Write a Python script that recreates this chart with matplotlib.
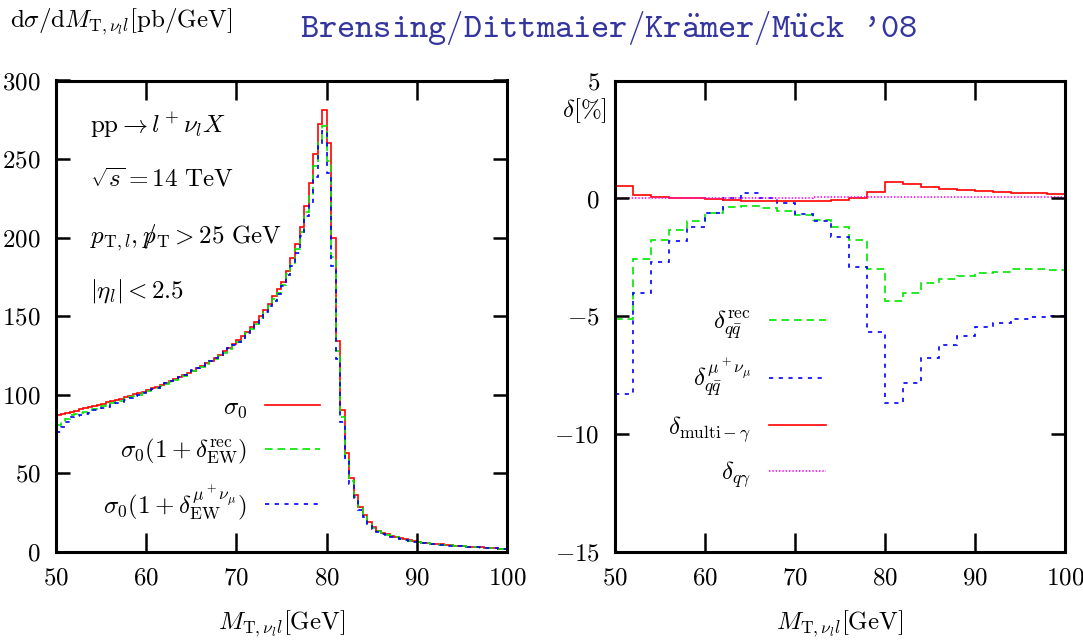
import numpy as np
import matplotlib
matplotlib.use("Agg")
import matplotlib.pyplot as plt
from matplotlib.ticker import FixedLocator, FixedFormatter

plt.rcParams["mathtext.fontset"] = "cm"
plt.rcParams["font.family"] = "serif"
plt.rcParams["font.serif"] = ["cmr10"]
plt.rcParams["lines.scale_dashes"] = False
plt.rcParams["axes.unicode_minus"] = False

# ---- binning of the transverse-mass distribution ----
mt_min, mt_max = 50.0, 100.0
fine_bin = 0.5     # GeV, cross-section histogram
coarse_bin = 2.0   # GeV, relative corrections

# dsigma/dM_T [pb/GeV], 0.5 GeV bins from 50 to 100 GeV
sigma_0 = [
    87.3, 87.9, 88.6, 89.2, 89.9, 90.6, 91.3, 92.0, 92.7, 93.4,
    94.2, 95.0, 95.8, 96.6, 97.4, 98.3, 99.2, 100.1, 101.0, 102.0,
    103.0, 104.0, 105.1, 106.2, 107.3, 108.5, 109.7, 111.0, 112.4, 113.7,
    115.2, 116.7, 118.3, 119.9, 121.7, 123.5, 125.4, 127.5, 129.7, 132.0,
    134.5, 137.1, 140.0, 143.0, 146.4, 150.0, 154.0, 158.0, 162.5, 167.0,
    172.0, 179.0, 187.0, 196.0, 207.0, 220.0, 235.0, 253.0, 272.0, 281.0,
    260.0, 199.5, 134.0, 90.0, 63.0, 47.0, 36.0, 28.7, 23.4, 19.0,
    15.5, 13.4, 12.1, 11.1, 10.2, 9.4, 8.5, 7.9, 7.3, 6.6,
    6.1, 5.8, 5.5, 5.2, 4.9, 4.6, 4.4, 4.1, 3.9, 3.7,
    3.5, 3.3, 3.1, 2.9, 2.7, 2.5, 2.3, 2.2, 2.0, 1.8,
]
sigma_rec = [
    80.8, 82.6, 84.6, 87.0, 87.6, 88.2, 88.9, 89.6, 91.1, 91.8,
    92.5, 93.3, 94.5, 95.3, 96.1, 97.0, 98.3, 99.1, 100.0, 101.0,
    102.4, 103.4, 104.4, 105.5, 106.9, 108.1, 109.3, 110.6, 112.1, 113.4,
    114.8, 116.3, 117.8, 119.4, 121.2, 123.0, 124.7, 126.8, 129.0, 131.3,
    133.6, 136.2, 139.0, 142.0, 145.1, 148.6, 152.6, 156.5, 160.6, 165.0,
    170.0, 176.9, 183.7, 192.5, 203.3, 216.1, 228.0, 245.4, 262.0, 271.0,
    249.0, 187.5, 128.0, 86.0, 60.5, 45.1, 34.6, 27.6, 22.6, 18.3,
    14.9, 12.9, 11.7, 10.7, 9.9, 9.1, 8.2, 7.6, 7.1, 6.4,
    5.9, 5.6, 5.3, 5.0, 4.7, 4.5, 4.3, 4.0, 3.8, 3.6,
    3.4, 3.2, 3.0, 2.8, 2.6, 2.4, 2.2, 2.1, 1.9, 1.7,
]
sigma_mu = [
    76.4, 79.1, 82.4, 85.6, 86.3, 87.0, 87.6, 88.3, 90.2, 90.9,
    91.7, 92.4, 94.1, 94.9, 95.6, 96.5, 98.0, 98.9, 99.8, 100.8,
    102.4, 103.4, 104.4, 105.5, 107.3, 108.5, 109.7, 111.0, 112.7, 114.0,
    115.5, 117.0, 118.3, 120.0, 121.7, 123.5, 125.2, 127.3, 129.5, 131.8,
    133.6, 136.2, 139.1, 142.1, 145.0, 148.5, 152.5, 156.5, 159.8, 164.2,
    169.2, 176.0, 181.6, 190.3, 201.0, 213.6, 221.7, 238.7, 258.0, 268.0,
    241.0, 182.0, 123.0, 82.4, 58.1, 43.3, 33.2, 26.4, 21.8, 17.7,
    14.4, 12.5, 11.4, 10.4, 9.6, 8.8, 8.0, 7.4, 6.9, 6.2,
    5.8, 5.5, 5.2, 4.9, 4.6, 4.4, 4.2, 3.9, 3.7, 3.5,
    3.3, 3.1, 2.9, 2.8, 2.6, 2.4, 2.2, 2.1, 1.9, 1.7,
]

# relative corrections delta [%], 2 GeV bins from 50 to 100 GeV
delta_qq_rec = [
    -5.10, -2.57, -1.75, -1.34, -0.95, -0.62, -0.34, -0.31, -0.42, -0.52,
    -0.69, -0.92, -1.19, -1.77, -3.01, -4.37, -4.02, -3.60, -3.41, -3.28,
    -3.18, -3.10, -3.01, -3.01, -3.04,
]
delta_qq_mu = [
    -8.28, -4.02, -2.70, -1.80, -1.19, -0.62, 0.04, 0.25, 0.04, -0.17,
    -0.66, -0.97, -1.65, -2.90, -5.66, -8.66, -7.85, -6.78, -6.21, -5.83,
    -5.47, -5.30, -5.13, -5.05, -5.00,
]
delta_multi_gamma = [
    0.54, 0.16, 0.07, 0.03, 0.00, -0.04, -0.08, -0.10, -0.10, -0.10,
    -0.10, -0.10, -0.05, 0.04, 0.28, 0.71, 0.61, 0.47, 0.40, 0.34,
    0.30, 0.27, 0.24, 0.22, 0.20,
]
delta_q_gamma = [
    0.02, 0.02, 0.02, 0.03, 0.03, 0.03, 0.04, 0.04, 0.04, 0.04,
    0.04, 0.05, 0.05, 0.05, 0.06, 0.07, 0.07, 0.07, 0.07, 0.07,
    0.07, 0.08, 0.08, 0.08, 0.08,
]

mt_ticks = [50, 60, 70, 80, 90, 100]
sigma_ticks = [0, 50, 100, 150, 200, 250, 300]
delta_ticks = [-15, -10, -5, 0, 5]

fine_edges = np.linspace(mt_min, mt_max, int(round((mt_max - mt_min) / fine_bin)) + 1)
coarse_edges = np.linspace(mt_min, mt_max, int(round((mt_max - mt_min) / coarse_bin)) + 1)

RED, GREEN, BLUE, MAGENTA = "#ff0000", "#00e600", "#0000ff", "#ff00ff"
FS = 18
LW = 1.2
DASHED = (0, (5.5, 3.5))
SHORTDASH = (0, (3.0, 4.0))
DOTTED = (0, (1.0, 1.4))

fig = plt.figure(figsize=(10.83, 6.44), dpi=100)
ax1 = fig.add_axes([0.0517, 0.1433, 0.4164, 0.7317])
ax2 = fig.add_axes([0.5679, 0.1430, 0.4155, 0.7317])


def style_axes(ax, yticks, ylim):
    ax.set_xlim(mt_min, mt_max)
    ax.set_ylim(*ylim)
    ax.xaxis.set_major_locator(FixedLocator(mt_ticks))
    ax.xaxis.set_major_formatter(FixedFormatter([f"${t}$" for t in mt_ticks]))
    ax.yaxis.set_major_locator(FixedLocator(yticks))
    ax.yaxis.set_major_formatter(FixedFormatter([f"${t}$" for t in yticks]))
    ax.tick_params(axis="x", direction="in", top=True, length=13.5, width=1.8,
                   pad=11, labelsize=FS)
    ax.tick_params(axis="y", direction="in", right=True, length=10, width=1.8,
                   pad=11, labelsize=FS)
    for sp in ax.spines.values():
        sp.set_linewidth(2.2)
    ax.set_xlabel(r"$M_{\mathrm{T},\nu_l l}[\mathrm{GeV}]$", fontsize=FS,
                  verticalalignment="baseline")
    ax.xaxis.set_label_coords(0.5, -0.165)


# ---- left: differential cross section ----
ax1.stairs(sigma_0, fine_edges, baseline=None, color=RED, lw=LW,
           label=r"$\sigma_0$")
ax1.stairs(sigma_rec, fine_edges, baseline=None, color=GREEN, lw=LW,
           linestyle=DASHED,
           label=r"$\sigma_0(1+\delta_{\mathrm{EW}}^{\mathrm{rec}})$")
ax1.stairs(sigma_mu, fine_edges, baseline=None, color=BLUE, lw=LW,
           linestyle=SHORTDASH,
           label=r"$\sigma_0(1+\delta_{\mathrm{EW}}^{\mu^+\nu_\mu})$")
style_axes(ax1, sigma_ticks, (0, 300))

ax1.legend(loc="center right", bbox_to_anchor=(0.585, 0.197), frameon=False,
           markerfirst=False, fontsize=FS, handlelength=2.2,
           handletextpad=0.7, labelspacing=0.68, borderpad=0,
           borderaxespad=0)

info = [
    r"$\mathrm{pp} \rightarrow l^+\nu_l X$",
    r"$\sqrt{s} = 14\ \mathrm{TeV}$",
    r"$p_{\mathrm{T},l}, p\!\!\!/_{\mathrm{T}} > 25\ \mathrm{GeV}$",
    r"$|\eta_l| < 2.5$",
]
for txt, yb in zip(info, [0.8886, 0.7740, 0.6552, 0.5405]):
    ax1.text(0.075, yb, txt, transform=ax1.transAxes, fontsize=FS,
             va="baseline", ha="left")

# ---- right: relative corrections ----
ax2.stairs(delta_qq_rec, coarse_edges, baseline=None, color=GREEN, lw=LW,
           linestyle=DASHED, label=r"$\delta_{q\bar{q}}^{\mathrm{rec}}$")
ax2.stairs(delta_qq_mu, coarse_edges, baseline=None, color=BLUE, lw=LW,
           linestyle=SHORTDASH, label=r"$\delta_{q\bar{q}}^{\mu^+\nu_\mu}$")
ax2.stairs(delta_multi_gamma, coarse_edges, baseline=None, color=RED, lw=LW,
           label=r"$\delta_{\mathrm{multi}-\gamma}$")
ax2.stairs(delta_q_gamma, coarse_edges, baseline=None, color=MAGENTA, lw=LW,
           linestyle=DOTTED, label=r"$\delta_{q\gamma}$")
style_axes(ax2, delta_ticks, (-15, 5))

ax2.legend(loc="center right", bbox_to_anchor=(0.469, 0.3245), frameon=False,
           markerfirst=False, fontsize=FS, handlelength=2.3,
           handletextpad=0.7, labelspacing=0.62, borderpad=0,
           borderaxespad=0)

ax2.text(-0.067, 0.922, r"$\delta[\%]$", transform=ax2.transAxes,
         fontsize=FS, ha="center", va="baseline")

# ---- header ----
fig.text(10 / 1083, 1 - 27 / 644,
         r"$\mathrm{d}\sigma/\mathrm{d}M_{\mathrm{T},\nu_l l}[\mathrm{pb/GeV}]$",
         fontsize=FS, ha="left", va="baseline")
fig.text(300 / 1083, 1 - 37 / 644,
         r"$\mathtt{Brensing/Dittmaier/Kr\ddot{a}mer/M\ddot{u}ck}$ '08",
         fontsize=25, family="cmtt10", color="#3535a0",
         ha="left", va="baseline")

fig.savefig("out.png", dpi=100)
